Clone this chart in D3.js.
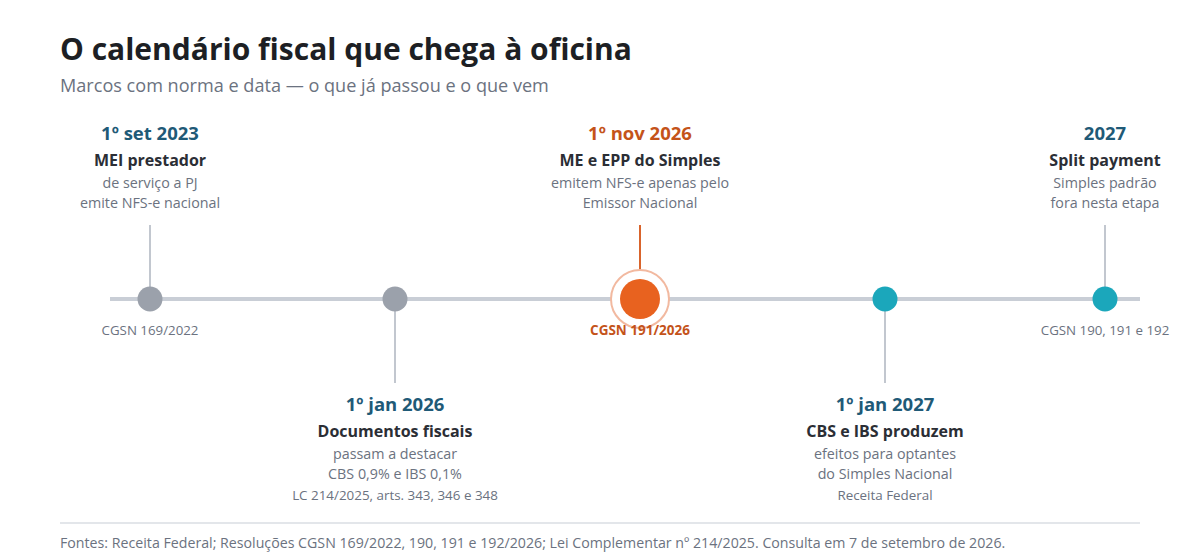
<!DOCTYPE html>
<html>
<head>
<meta charset="utf-8">
<script src="https://cdn.jsdelivr.net/npm/d3@7"></script>
<style>
  body { margin: 0; background: #fff; }
  svg { display: block; font-family: "Open Sans", "Noto Sans", sans-serif; }
</style>
</head>
<body>
<svg id="chart" width="1200" height="560"></svg>
<script>
// marcos do calendário
const ids = ["mei", "docs", "nfse", "cbs", "split"];
const dates = ["1º set 2023", "1º jan 2026", "1º nov 2026", "1º jan 2027", "2027"];
const titles = ["MEI prestador", "Documentos fiscais", "ME e EPP do Simples", "CBS e IBS produzem", "Split payment"];
const details = [
    ["de serviço a PJ", "emite NFS-e nacional"],
    ["passam a destacar", "CBS 0,9% e IBS 0,1%"],
    ["emitem NFS-e apenas pelo", "Emissor Nacional"],
    ["efeitos para optantes", "do Simples Nacional"],
    ["Simples padrão", "fora nesta etapa"]
];
const sources = ["", "LC 214/2025, arts. 343, 346 e 348", "", "Receita Federal", ""];
const norms = ["CGSN 169/2022", "", "CGSN 191/2026", "", "CGSN 190, 191 e 192"];
const sides = ["top", "bottom", "top", "bottom", "top"];
const status = ["past", "past", "next", "future", "future"];

const width = 1200;
const height = 560;
const lineY = 299;
const lineX = [110, 1140];

const svg = d3.select("#chart");

svg.append("text")
    .attr("x", 60).attr("y", 60)
    .attr("font-size", 30).attr("font-weight", 700)
    .attr("fill", "#1d1f24")
    .text("O calendário fiscal que chega à oficina");

svg.append("text")
    .attr("x", 60).attr("y", 92)
    .attr("font-size", 18.1)
    .attr("fill", "#6b7280")
    .text("Marcos com norma e data — o que já passou e o que vem");

const x = d3.scalePoint()
    .domain(ids)
    .range([150, 1130]);

// keep last marker inside the line so its label fits
const px = id => Math.min(x(id), lineX[1] - 35);

const color = { past: "#9ba1ab", next: "#e8621f", future: "#1ba7bb" };

const data = ids.map((id, i) => ({
    id, date: dates[i], title: titles[i], lines: details[i],
    source: sources[i], norm: norms[i], side: sides[i], status: status[i]
}));

svg.append("line")
    .attr("x1", lineX[0]).attr("x2", lineX[1])
    .attr("y1", lineY).attr("y2", lineY)
    .attr("stroke", "#c9ced6").attr("stroke-width", 4);

const g = svg.selectAll("g.event")
    .data(data)
    .join("g")
    .attr("class", "event")
    .attr("transform", d => `translate(${px(d.id)},0)`);

// connectors
g.append("line")
    .attr("y1", d => d.side === "top" ? 225 : lineY)
    .attr("y2", d => d.side === "top" ? lineY : 383)
    .attr("stroke", d => d.status === "next" ? "#d9642c" : "#c2c7cf")
    .attr("stroke-width", 2);

g.filter(d => d.status === "next").append("circle")
    .attr("cy", lineY).attr("r", 29)
    .attr("fill", "#fff")
    .attr("stroke", "#f2b9a0").attr("stroke-width", 2);

g.append("circle")
    .attr("cy", lineY)
    .attr("r", d => d.status === "next" ? 20 : 12.5)
    .attr("fill", d => color[d.status]);

// norm labels under the marker
g.append("text")
    .attr("y", 335)
    .attr("text-anchor", "middle")
    .attr("font-size", d => d.status === "next" ? 13.5 : 13.3)
    .attr("font-weight", d => d.status === "next" ? 700 : 400)
    .attr("fill", d => d.status === "next" ? "#c4531a" : "#6b7280")
    .text(d => d.norm);

// text blocks
const block = g.append("g")
    .attr("transform", d => `translate(0,${d.side === "top" ? 133 : 404})`)
    .attr("text-anchor", "middle");

block.append("text")
    .attr("y", 7)
    .attr("font-size", 18.5).attr("font-weight", 700)
    .attr("fill", d => d.status === "next" ? "#c4531a" : "#1f5a77")
    .text(d => d.date);

block.append("text")
    .attr("y", 33)
    .attr("font-size", 16).attr("font-weight", 700)
    .attr("fill", "#2b2e35")
    .text(d => d.title);

block.selectAll("text.detail")
    .data(d => d.lines)
    .join("text")
    .attr("class", "detail")
    .attr("y", (d, i) => 55 + i * 20)
    .attr("font-size", 14.3)
    .attr("fill", "#6b7280")
    .text(d => d);

block.append("text")
    .attr("y", 96)
    .attr("font-size", 13.4)
    .attr("fill", "#6b7280")
    .text(d => d.source);

svg.append("line")
    .attr("x1", 60).attr("x2", 1140)
    .attr("y1", 523).attr("y2", 523)
    .attr("stroke", "#e3e6ea").attr("stroke-width", 2);

svg.append("text")
    .attr("x", 60).attr("y", 548)
    .attr("font-size", 14.2)
    .attr("fill", "#6b7280")
    .text("Fontes: Receita Federal; Resoluções CGSN 169/2022, 190, 191 e 192/2026; Lei Complementar nº 214/2025. Consulta em 7 de setembro de 2026.");
</script>
</body>
</html>
